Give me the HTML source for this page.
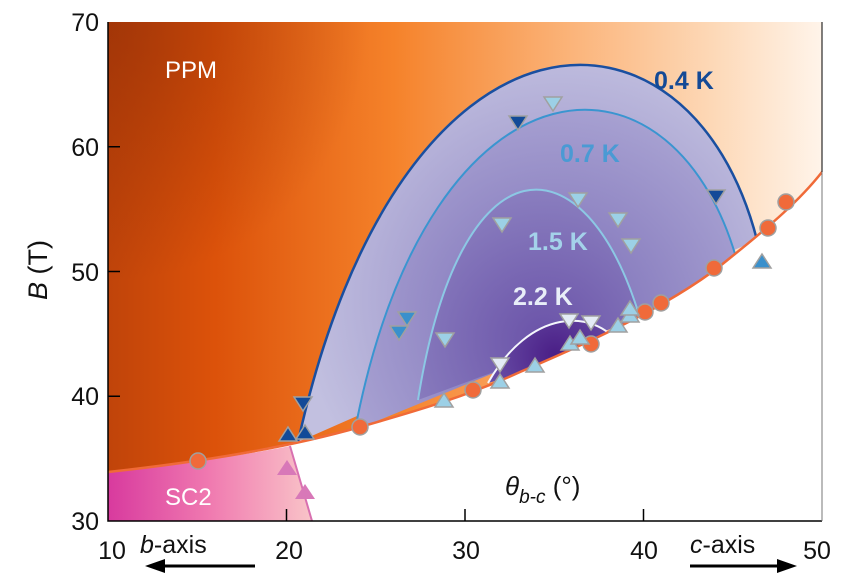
<!DOCTYPE html>
<html><head><meta charset="utf-8"><style>
html,body{margin:0;padding:0;background:#fff;}
svg{display:block;font-family:"Liberation Sans",sans-serif;}
</style></head><body>
<svg width="862" height="573" viewBox="0 0 862 573" xmlns="http://www.w3.org/2000/svg">
<defs>
<linearGradient id="org" x1="0" y1="0" x2="1" y2="0">
<stop offset="0" stop-color="#c0440a"/><stop offset="0.15" stop-color="#dc520a"/>
<stop offset="0.4" stop-color="#f5822a"/><stop offset="0.65" stop-color="#fbb47a"/><stop offset="0.85" stop-color="#fdd9b8"/><stop offset="1" stop-color="#fff4ea"/>
</linearGradient>
<radialGradient id="tl" cx="108" cy="22" r="260" gradientUnits="userSpaceOnUse">
<stop offset="0" stop-color="#8a2a05" stop-opacity="0.55"/><stop offset="1" stop-color="#8a2a05" stop-opacity="0"/>
</radialGradient>
<linearGradient id="pink" x1="0" y1="0" x2="1" y2="0">
<stop offset="0" stop-color="#d83a9e"/><stop offset="0.5" stop-color="#f07ab0"/><stop offset="1" stop-color="#f9c4c8"/>
</linearGradient>
<radialGradient id="d1" cx="560" cy="300" r="260" gradientUnits="userSpaceOnUse">
<stop offset="0" stop-color="#8a80c0"/><stop offset="1" stop-color="#c2c0e0"/></radialGradient>
<radialGradient id="d2" cx="555" cy="320" r="220" gradientUnits="userSpaceOnUse">
<stop offset="0" stop-color="#7a6cb6"/><stop offset="1" stop-color="#a8a2d2"/></radialGradient>
<radialGradient id="d3" cx="545" cy="340" r="170" gradientUnits="userSpaceOnUse">
<stop offset="0" stop-color="#6a52a8"/><stop offset="1" stop-color="#8e84c2"/></radialGradient>
<radialGradient id="d4" cx="555" cy="355" r="70" gradientUnits="userSpaceOnUse">
<stop offset="0" stop-color="#4a1e86"/><stop offset="1" stop-color="#6a50a8"/></radialGradient>
<clipPath id="plot"><rect x="108" y="22" width="714" height="499"/></clipPath>
<clipPath id="above"><path d="M108,22 L108,472 C200,462 290,447 360,427 C420,410 470,395 520,372 C600,338 680,300 730,258 C770,226 800,200 822,172 L822,22 Z"/></clipPath>
</defs>
<g clip-path="url(#plot)">
<rect x="108" y="22" width="714" height="499" fill="url(#org)"/>
<rect x="108" y="22" width="714" height="499" fill="url(#tl)"/>
<rect x="108" y="22" width="714" height="499" fill="#fff" clip-path="none" opacity="0"/>
<path d="M108,472 C200,462 290,447 360,427 C420,410 470,395 520,372 C600,338 680,300 730,258 C770,226 800,200 822,172 L822,521 L108,521 Z" fill="#fff"/>
<g clip-path="url(#above)">
<path d="M298,442 C400,-20 690,-20 757,240 Z" fill="url(#d1)"/>
<path d="M355,430 C430,40 680,30 740,272 Z" fill="url(#d2)"/>
<path d="M418,400 C460,135 585,135 640,318 Z" fill="url(#d3)"/>
<path d="M488,383 C530,308 594,308 620,345 Z" fill="url(#d4)"/>
<path d="M298,442 C400,-20 690,-20 757,240" stroke="#1a4fa0" stroke-width="2.5" fill="none"/>
<path d="M355,430 C430,40 680,30 740,272" stroke="#3a95d0" stroke-width="2" fill="none"/>
<path d="M418,400 C460,135 585,135 640,318" stroke="#8cc8e4" stroke-width="2" fill="none"/>
<path d="M488,383 C530,308 594,308 620,345" stroke="#f4f6fc" stroke-width="2" fill="none"/>
</g>
<path d="M108,472 C180,464 240,456 290,446 L312,521 L108,521 Z" fill="url(#pink)"/>
<path d="M290,446 L312,521" stroke="#d870b0" stroke-width="2" fill="none"/>
<path d="M108,472 C200,462 290,447 360,427 C420,410 470,395 520,372 C600,338 680,300 730,258 C770,226 800,200 822,172" stroke="#f06a38" stroke-width="2.5" fill="none"/>
</g>
<g stroke="#a0a0a0" stroke-width="1.5">
<g fill="#f06a3a">
<circle cx="198" cy="461" r="8"/><circle cx="360" cy="427" r="8"/><circle cx="473" cy="390" r="8"/>
<circle cx="591" cy="344" r="8"/><circle cx="645" cy="312" r="8"/><circle cx="661" cy="303" r="8"/>
<circle cx="714" cy="268" r="8"/><circle cx="768" cy="228" r="8"/><circle cx="786" cy="202" r="8"/>
</g>
<g fill="#124a98">
<path d="M288,427 l9,14 h-18 Z"/><path d="M305,425 l9,14 h-18 Z"/><path d="M294,397 h18 l-9,14 Z"/>
<path d="M509,116 h18 l-9,14 Z"/><path d="M707,190 h18 l-9,14 Z"/>
</g>
<g fill="#3a90cc">
<path d="M390,326 h18 l-9,14 Z"/><path d="M762,254 l9,14 h-18 Z"/><path d="M398,312 h18 l-9,14 Z"/>
</g>
<g fill="#9cd0e6">
<path d="M544,97 h18 l-9,14 Z"/><path d="M493,218 h18 l-9,14 Z"/><path d="M569,193 h18 l-9,14 Z"/>
<path d="M609,213 h18 l-9,14 Z"/><path d="M622,239 h18 l-9,14 Z"/><path d="M436,333 h18 l-9,14 Z"/>
<path d="M444,393 l9,14 h-18 Z"/><path d="M500,374 l9,14 h-18 Z"/><path d="M535,358 l9,14 h-18 Z"/>
<path d="M570,336 l9,14 h-18 Z"/><path d="M580,330 l9,14 h-18 Z"/><path d="M618,318 l9,14 h-18 Z"/>
<path d="M630,308 l9,14 h-18 Z"/><path d="M630,301 l9,14 h-18 Z"/>
</g>
<g fill="#e4ecf6">
<path d="M491,358 h18 l-9,14 Z"/><path d="M560,314 h18 l-9,14 Z"/><path d="M582,316 h18 l-9,14 Z"/>
</g>
<g fill="#d878b8" stroke="none">
<path d="M287,460 l10,15 h-20 Z"/><path d="M305,484 l10,15 h-20 Z"/>
</g>
</g>
<g stroke="#000" stroke-width="1.5" fill="none">
<path d="M108,22 V521 H822"/>
<path d="M108,146.75 h12 M108,271.5 h12 M108,396.25 h12 M286.5,521 v-12 M465,521 v-12 M643.5,521 v-12"/>
</g>
<path d="M822,22 V172" stroke="#000" stroke-width="1"/>
<path d="M822,172 V521" stroke="#777" stroke-width="1"/>
<g font-size="25" fill="#111" text-anchor="end">
<text x="99" y="31">70</text><text x="99" y="156">60</text><text x="99" y="281">50</text>
<text x="99" y="405">40</text><text x="99" y="530">30</text>
</g>
<g font-size="25" fill="#111" text-anchor="middle">
<text x="112" y="559">10</text><text x="289" y="559">20</text><text x="466" y="559">30</text>
<text x="644" y="559">40</text><text x="817" y="559">50</text>
</g>
<text transform="translate(47,270) rotate(-90)" font-size="27" text-anchor="middle" fill="#111"><tspan font-style="italic">B</tspan> (T)</text>
<text x="140" y="553" font-size="25" fill="#111"><tspan font-style="italic">b</tspan>-axis</text>
<text x="690" y="553" font-size="25" fill="#111"><tspan font-style="italic">c</tspan>-axis</text>
<path d="M255,566 H160" stroke="#000" stroke-width="3"/><path d="M145,566 l20,-7 v14 Z" fill="#000"/>
<path d="M690,566 H782" stroke="#000" stroke-width="3"/><path d="M797,566 l-20,-7 v14 Z" fill="#000"/>
<text x="165" y="78" font-size="24" fill="#fff">PPM</text>
<text x="165" y="505" font-size="24" fill="#fff">SC2</text>
<text x="505" y="495" font-size="26" fill="#111"><tspan font-style="italic">θ</tspan><tspan font-style="italic" font-size="19" dy="8">b-c</tspan><tspan dy="-8"> (°)</tspan></text>
<g font-size="25" font-weight="bold">
<text x="654" y="89" fill="#144a96">0.4 K</text>
<text x="560" y="162" fill="#4a9ad4">0.7 K</text>
<text x="528" y="250" fill="#a4d2ea">1.5 K</text>
<text x="513" y="305" fill="#e8eef8">2.2 K</text>
</g>
</svg>
</body></html>
